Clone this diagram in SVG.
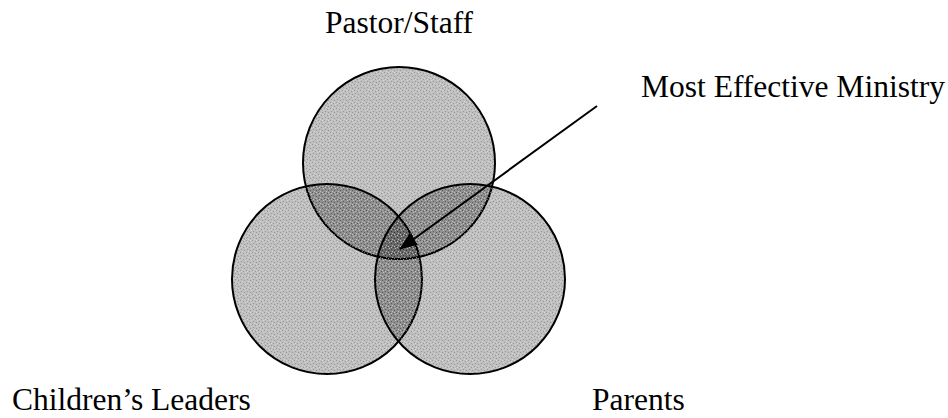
<svg xmlns="http://www.w3.org/2000/svg" width="948" height="418" viewBox="0 0 948 418">
  <style>
    .lbl { font-family: "Liberation Serif", "Times New Roman", serif; font-size: 31.5px; fill: #000; }
    .circ { fill: url(#tex); stroke: #000; stroke-width: 2; }
    .conn { stroke: #000; stroke-width: 2; fill: none; }
  </style>
  <defs>
    <pattern id="tex" width="6" height="6" patternUnits="userSpaceOnUse">
      <rect width="6" height="6" fill="#000" fill-opacity="0.25"/>
      <rect x="0" y="0" width="1" height="1" fill="#000" fill-opacity="0.2"/>
      <rect x="3" y="1" width="1" height="1" fill="#000" fill-opacity="0.2"/>
      <rect x="1" y="3" width="1" height="1" fill="#000" fill-opacity="0.2"/>
      <rect x="4" y="4" width="1" height="1" fill="#000" fill-opacity="0.2"/>
      <rect x="5" y="2" width="1" height="1" fill="#fff" fill-opacity="0.35"/>
      <rect x="2" y="5" width="1" height="1" fill="#fff" fill-opacity="0.35"/>
      <rect x="1" y="1" width="1" height="1" fill="#fff" fill-opacity="0.35"/>
      <rect x="4" y="0" width="1" height="1" fill="#fff" fill-opacity="0.35"/>
    </pattern>
    <marker id="arrow" viewBox="0 0 18 14" refX="17" refY="7" markerWidth="18" markerHeight="14" markerUnits="userSpaceOnUse" orient="auto">
      <path d="M0,0 L18,7 L0,14 z" fill="#000"/>
    </marker>
  </defs>
  <g id="pastor-staff">
    <circle class="circ" cx="399" cy="163" r="96"/>
    <text class="lbl" x="399" y="33" text-anchor="middle">Pastor/Staff</text>
  </g>
  <g id="childrens-leaders">
    <circle class="circ" cx="327" cy="279" r="95"/>
    <text class="lbl" x="12" y="410">Children’s Leaders</text>
  </g>
  <g id="parents">
    <circle class="circ" cx="470" cy="279" r="95"/>
    <text class="lbl" x="592" y="410">Parents</text>
  </g>
  <g id="most-effective-ministry">
    <text class="lbl" x="641" y="97">Most Effective Ministry</text>
  </g>
  <g id="connectors">
    <line class="conn" x1="597" y1="106" x2="400" y2="249" marker-end="url(#arrow)"/>
  </g>
</svg>
